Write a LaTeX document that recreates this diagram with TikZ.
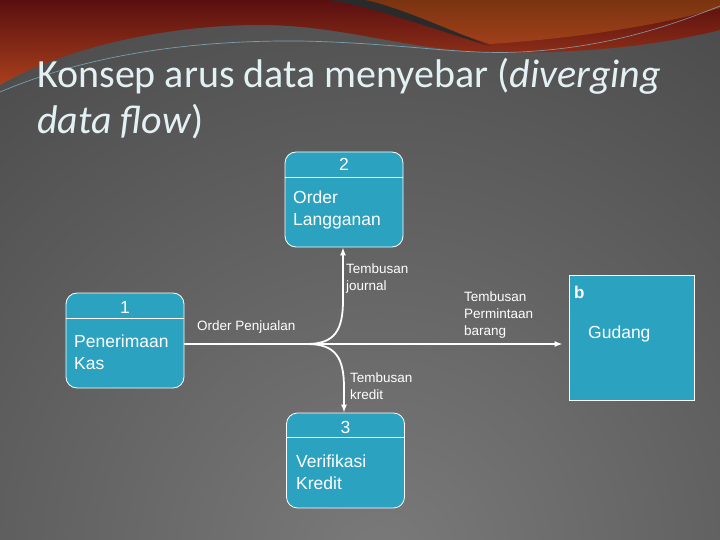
\documentclass[tikz,border=0pt]{standalone}
\usepackage{fontspec}
\setmainfont{Liberation Sans}
\newfontfamily\titlefont{Carlito}
\usetikzlibrary{arrows.meta}
\definecolor{boxblue}{HTML}{2BA2C0}
\definecolor{titlecol}{HTML}{E4F1F4}
\definecolor{bginner}{HTML}{7A7A7A}
\definecolor{bgouter}{HTML}{1C1C1C}
\definecolor{redtop}{HTML}{5A0F10}
\definecolor{redbot}{HTML}{A8401C}
\definecolor{orangetop}{HTML}{7A3410}
\definecolor{orangebot}{HTML}{A0401A}
\definecolor{swooshdark}{HTML}{2A2A2A}
\tikzset{
  proc/.style={draw=white, line width=0.8pt, fill=boxblue, rounded corners=11pt,
    minimum width=118pt, minimum height=95pt, inner sep=0pt},
  store/.style={draw=white, line width=0.8pt, fill=boxblue,
    minimum width=125pt, minimum height=125pt, inner sep=0pt},
  hdr/.style={draw=white, line width=0.8pt},
  flow/.style={draw=white, line width=1.8pt, -{Latex[length=8pt,width=6pt]}},
  lbl/.style={text=white, font=\fontsize{13.5}{17}\selectfont, align=left,
    inner sep=0pt, anchor=west},
  boxtxt/.style={text=white, font=\fontsize{17.5}{22}\selectfont, align=left,
    inner sep=0pt, anchor=west},
  ttl/.style={text=titlecol, font=\titlefont\fontsize{40}{46}\selectfont,
    inner sep=0pt, anchor=base west}
}
\begin{document}
\begin{tikzpicture}[x=1pt,y=-1pt]
\useasboundingbox (0,0) rectangle (720,540);
% background
\begin{scope}
\clip (0,0) rectangle (720,540);
\fill[bgouter] (0,0) rectangle (720,540);
\shade[inner color=bginner, outer color=bgouter] (380,560) circle (1300);
% red swoosh
\shade[top color=redtop, bottom color=redbot]
  (0,0) -- (720,0) -- (720,30)
  .. controls (660,45) and (580,55) .. (480,52)
  .. controls (400,48) and (340,25) .. (260,25)
  .. controls (160,25) and (60,50) .. (0,85) -- cycle;
\shade[top color=orangetop, bottom color=orangebot]
  (360,0) -- (720,0) -- (720,8)
  .. controls (660,25) and (580,38) .. (490,44)
  .. controls (440,28) and (395,8) .. (360,0) -- cycle;
\fill[swooshdark] (330,0) .. controls (385,10) and (435,30) .. (490,46)
  .. controls (440,26) and (395,6) .. (365,0) -- cycle;
\draw[white!60!cyan, opacity=0.55, line width=0.7pt]
  (0,92) .. controls (80,58) and (180,40) .. (300,41)
  .. controls (400,43) and (460,55) .. (520,52)
  .. controls (600,48) and (660,30) .. (720,6);
\end{scope}
% title
\node[ttl] (title1) at (37,88) {Konsep arus data menyebar (\textit{diverging}};
\node[ttl] (title2) at (37,134) {\textit{data flow})};
% process 2
\node[proc] (b2) at (344,199.5) {};
\draw[hdr] (b2.west |- 0,177) -- (b2.east |- 0,177);
\node[boxtxt, anchor=center] (n2) at (344,164) {2};
\node[boxtxt] (t2) at (293,210) {Order\\Langganan};
% process 1
\node[proc] (b1) at (125,340.5) {};
\draw[hdr] (b1.west |- 0,318) -- (b1.east |- 0,318);
\node[boxtxt, anchor=center] (n1) at (125,307) {1};
\node[boxtxt] (t1) at (74,352.5) {Penerimaan\\Kas};
% process 3
\node[proc] (b3) at (345.5,460.5) {};
\draw[hdr] (b3.west |- 0,437) -- (b3.east |- 0,437);
\node[boxtxt, anchor=center] (n3) at (345.5,427) {3};
\node[boxtxt] (t3) at (296,472.5) {Verifikasi\\Kredit};
% store Gudang
\node[store] (gd) at (631.5,337.5) {};
\node[boxtxt, font=\bfseries\fontsize{17}{20}\selectfont] (gb) at (574,292) {b};
\node[boxtxt] (gt) at (588,334) {Gudang};
% flows
\coordinate (split) at (307,344);
\coordinate (jup) at (343,300);
\coordinate (jdn) at (344,388);
\draw[flow, shorten >=6pt] (b1.east |- split) -- (gd.west |- split);
\draw[flow] (split) .. controls (335,344) and (343,330) .. (jup) -- (b2.south -| jup);
\draw[flow] (split) .. controls (336,344) and (344,358) .. (jdn) -- (b3.north -| jdn);
% labels
\node[lbl] (l1) at (346,279) {Tembusan\\journal};
\node[lbl] (l2) at (197,327) {Order Penjualan};
\node[lbl] (l3) at (464,315) {Tembusan\\Permintaan\\barang};
\node[lbl] (l4) at (350,386) {Tembusan\\kredit};
\end{tikzpicture}
\end{document}
